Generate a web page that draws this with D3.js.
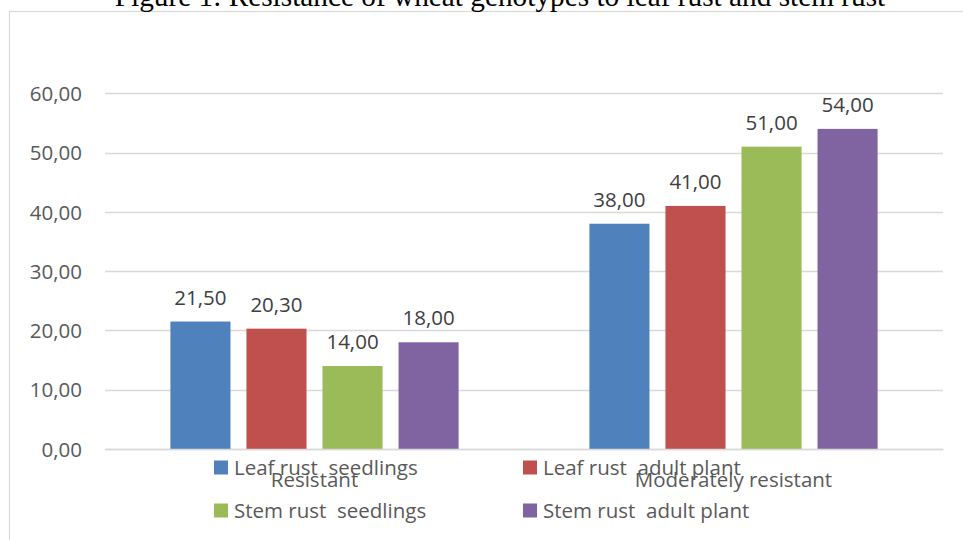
<!DOCTYPE html>
<html>
<head>
<meta charset="utf-8">
<script src="https://cdn.jsdelivr.net/npm/d3@7"></script>
<style>
  html, body { margin: 0; padding: 0; background: #fff; }
  svg { display: block; }
</style>
</head>
<body>
<svg id="chart" width="963" height="540"></svg>
<script>
// Resistance of wheat genotypes (%), by resistance class and rust/stage
const categories = ["Resistant", "Moderately resistant"];
const seriesNames = ["Leaf rust  seedlings", "Leaf rust  adult plant", "Stem rust  seedlings", "Stem rust  adult plant"];
const leafSeedlings = [21.5, 38.0];
const leafAdult = [20.3, 41.0];
const stemSeedlings = [14.0, 51.0];
const stemAdult = [18.0, 54.0];
const seriesColors = ["#4F81BD", "#C0504D", "#9BBB59", "#8064A2"];
const yTicks = [0, 10, 20, 30, 40, 50, 60];

const seriesValues = [leafSeedlings, leafAdult, stemSeedlings, stemAdult];
const fmt = v => d3.format(".2f")(v).replace(".", ",");

const svg = d3.select("#chart");
const labelFont = "'Open Sans', 'Noto Sans', sans-serif";
const fontSize = 20.5;
const textColor = "#595959";

// Chart frame
svg.append("rect")
  .attr("x", 9.5).attr("y", 11.5)
  .attr("width", 1000).attr("height", 600)
  .attr("fill", "#fff").attr("stroke", "#d9d9d9").attr("stroke-width", 1.2);

// Title
svg.append("text")
  .attr("x", 500).attr("y", 5.5)
  .attr("text-anchor", "middle")
  .attr("font-family", "'Liberation Serif', 'Times New Roman', serif")
  .attr("font-size", 29.3)
  .attr("fill", "#000")
  .text("Figure 1: Resistance of wheat genotypes to leaf rust and stem rust");

const plot = { left: 105, right: 943, top: 93.3, bottom: 449 };

const y = d3.scaleLinear().domain([0, 60]).range([plot.bottom, plot.top]);
const x0 = d3.scaleBand().domain(categories).range([plot.left, plot.right]).padding(0);
const x1 = d3.scaleBand().domain(d3.range(seriesNames.length))
  .range([0, x0.bandwidth()])
  .paddingInner(0.21).paddingOuter(0.86);

// Gridlines
svg.append("g")
  .selectAll("line")
  .data(yTicks)
  .join("line")
  .attr("x1", plot.left).attr("x2", plot.right)
  .attr("y1", d => Math.round(y(d)) + 0.5).attr("y2", d => Math.round(y(d)) + 0.5)
  .attr("stroke", "#d9d9d9").attr("stroke-width", 1.5);

// Y axis labels
const yAxis = d3.axisLeft(y).tickValues(yTicks).tickFormat(fmt).tickSize(0).tickPadding(0);
const gy = svg.append("g").attr("transform", `translate(82,0)`).call(yAxis);
gy.select(".domain").remove();
gy.selectAll("text")
  .attr("font-family", labelFont).attr("font-size", fontSize)
  .attr("fill", textColor).attr("dy", "0.35em");

// Bars
const groups = svg.append("g")
  .selectAll("g")
  .data(categories)
  .join("g")
  .attr("transform", d => `translate(${x0(d)},0)`);

groups.selectAll("rect")
  .data((d, ci) => seriesValues.map((vals, si) => ({ si, v: vals[ci] })))
  .join("rect")
  .attr("x", d => x1(d.si))
  .attr("width", x1.bandwidth())
  .attr("y", d => y(d.v))
  .attr("height", d => y(0) - y(d.v))
  .attr("fill", d => seriesColors[d.si]);

groups.selectAll("text.val")
  .data((d, ci) => seriesValues.map((vals, si) => ({ si, v: vals[ci] })))
  .join("text")
  .attr("class", "val")
  .attr("x", d => x1(d.si) + x1.bandwidth() / 2)
  .attr("y", d => y(d.v) - 17)
  .attr("text-anchor", "middle")
  .attr("font-family", labelFont).attr("font-size", fontSize)
  .attr("fill", "#404040")
  .text(d => fmt(d.v));

// Category axis
const xAxis = d3.axisBottom(x0).tickSize(0).tickPadding(0);
const gx = svg.append("g").attr("transform", `translate(0,${plot.bottom})`).call(xAxis);
gx.select(".domain").attr("stroke", "#d9d9d9").attr("stroke-width", 1.5);
gx.selectAll("text")
  .attr("font-family", labelFont).attr("font-size", fontSize)
  .attr("fill", textColor).attr("dy", 0).attr("y", 38);

// Legend
const legendPos = [[214, 460.5], [523, 460.5], [214, 503.5], [523, 503.5]];
const legend = svg.append("g")
  .selectAll("g")
  .data(seriesNames)
  .join("g")
  .attr("transform", (d, i) => `translate(${legendPos[i][0]},${legendPos[i][1]})`);
legend.append("rect")
  .attr("width", 14).attr("height", 14)
  .attr("fill", (d, i) => seriesColors[i]);
legend.append("text")
  .attr("x", 20).attr("y", 14.5)
  .attr("font-family", labelFont).attr("font-size", fontSize)
  .attr("fill", textColor)
  .attr("xml:space", "preserve")
  .style("white-space", "pre")
  .text(d => d);
</script>
</body>
</html>
